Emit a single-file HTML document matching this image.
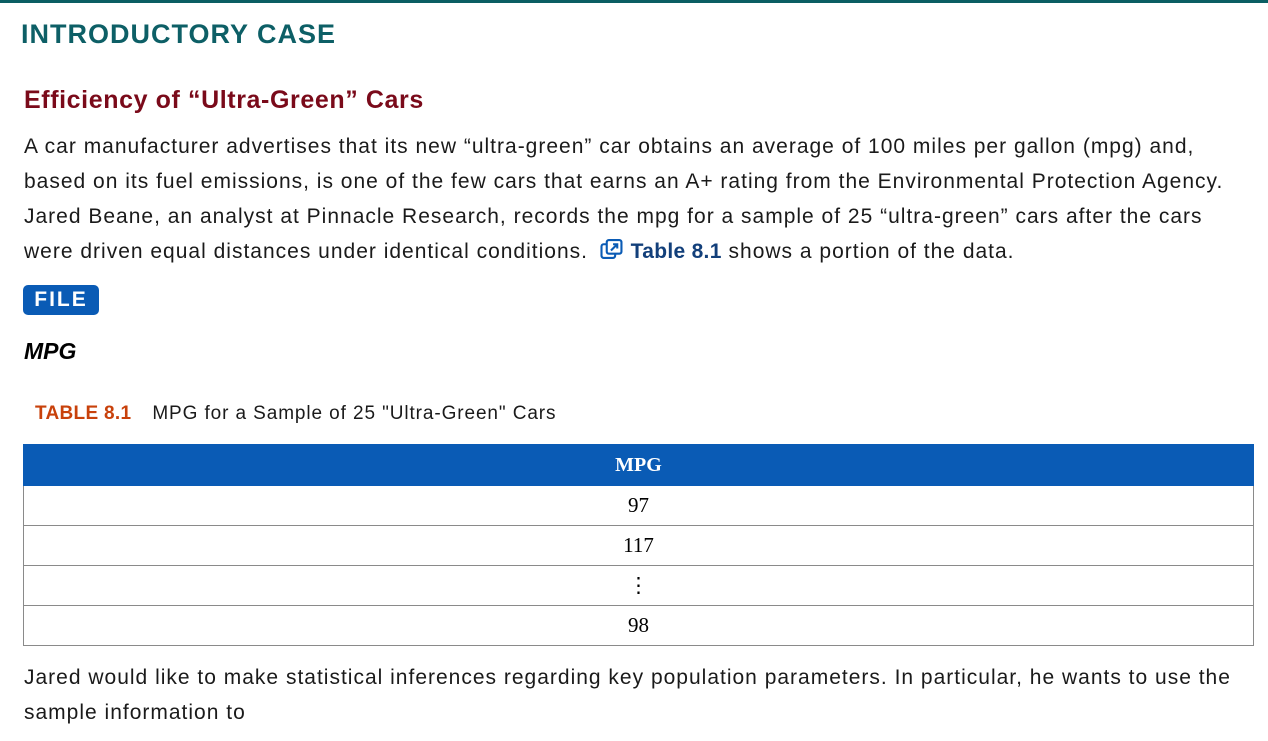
<!DOCTYPE html>
<html><head><meta charset="utf-8"><style>
body{margin:0;width:1268px;height:741px;overflow:hidden;background:#fff;font-family:"Liberation Sans",sans-serif;position:relative}
.a{position:absolute;white-space:nowrap}
.p{font-size:21px;letter-spacing:1px;color:#1a1a1a;left:24px;line-height:24px}
table{position:absolute;left:23px;top:444px;width:1231px;border-collapse:collapse;font-family:"Liberation Serif",serif;font-size:21px}
td,th{height:39px;text-align:center;border:1px solid #8a8a8a;padding:0}
th{background:#0a5bb5;color:#fff;border-color:#0a5bb5;font-weight:bold;font-size:20px}
</style></head><body>
<div class="a" style="left:0;top:0;width:1268px;height:3px;background:#0b5e63"></div>
<div class="a" style="left:21px;top:19px;font-size:27px;letter-spacing:1px;font-weight:bold;color:#0d5f66">INTRODUCTORY CASE</div>
<div class="a" style="left:24px;top:86px;font-size:25px;letter-spacing:0.6px;font-weight:bold;color:#7a0a1a">Efficiency of “Ultra-Green” Cars</div>
<div class="a p" style="top:135px">A car manufacturer advertises that its new “ultra-green” car obtains an average of 100 miles per gallon (mpg) and,</div>
<div class="a p" style="top:170px">based on its fuel emissions, is one of the few cars that earns an A+ rating from the Environmental Protection Agency.</div>
<div class="a p" style="top:205px">Jared Beane, an analyst at Pinnacle Research, records the mpg for a sample of 25 “ultra-green” cars after the cars</div>
<div class="a p" style="top:239px">were driven equal distances under identical conditions.
<svg width="24" height="21" viewBox="0 0 22 20" style="vertical-align:-2px;margin-left:5px"><rect x="1" y="5" width="13" height="13" rx="2" fill="none" stroke="#0a5bb5" stroke-width="2"/><rect x="6" y="1" width="14" height="13" rx="2" fill="#fff" stroke="#0a5bb5" stroke-width="2"/><path d="M10 11 L16 5 M12 5 H16 V9" stroke="#0a5bb5" stroke-width="2" fill="none"/></svg>
<span style="color:#123f7a;font-weight:bold;letter-spacing:0.3px">Table 8.1</span> shows a portion of the data.</div>
<div class="a" style="left:23px;top:285px;width:76px;height:30px;background:#0a5bb5;border-radius:5px;color:#fff;font-weight:bold;font-size:21px;letter-spacing:2px;text-align:center;line-height:30px">FILE</div>
<div class="a" style="left:24px;top:338px;font-size:23px;font-weight:bold;font-style:italic">MPG</div>
<div class="a" style="left:35px;top:403px;font-size:19px;color:#1a1a1a"><b style="color:#c8410b;letter-spacing:0.3px">TABLE 8.1</b><span style="margin-left:21px;letter-spacing:0.9px">MPG for a Sample of 25 "Ultra-Green" Cars</span></div>
<table>
<tr><th style="height:40px">MPG</th></tr>
<tr><td>97</td></tr>
<tr><td>117</td></tr>
<tr><td>⋮</td></tr>
<tr><td>98</td></tr>
</table>
<div class="a p" style="top:666px">Jared would like to make statistical inferences regarding key population parameters. In particular, he wants to use the</div>
<div class="a p" style="top:701px">sample information to</div>
</body></html>
